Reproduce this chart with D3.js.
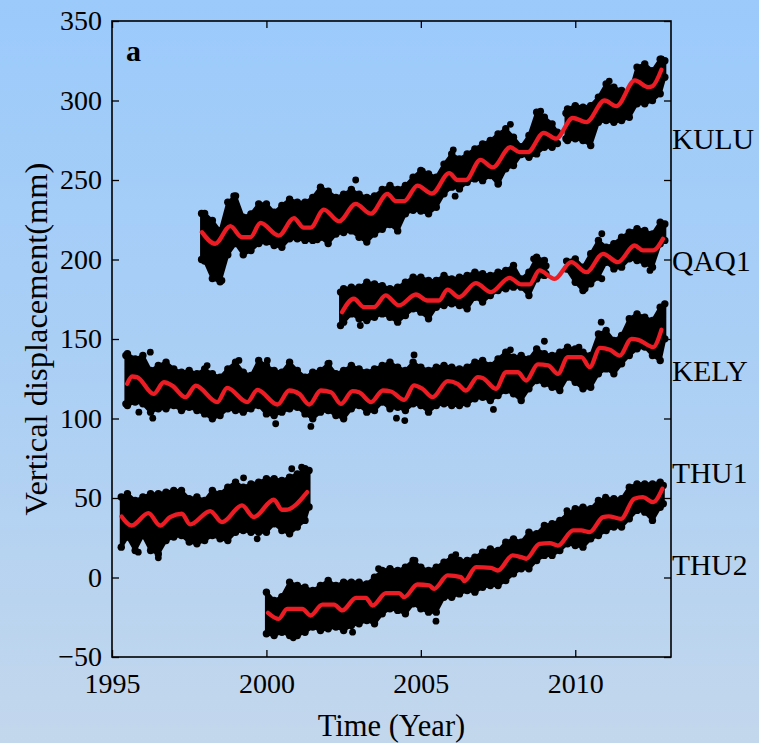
<!DOCTYPE html>
<html><head><meta charset="utf-8">
<script src="https://cdn.jsdelivr.net/npm/d3@7"></script>
<style>html,body{margin:0;padding:0;}svg{display:block;}</style>
</head><body>
<svg id="chart" width="759" height="743"></svg>
<script>
// ---------- data ----------
const stationNames = ["KULU", "QAQ1", "KELY", "THU1", "THU2"];
const labelBaselines = [149, 271, 381, 483, 575];
const xTicks = [1995, 2000, 2005, 2010];
const yTicks = [-50, 0, 50, 100, 150, 200, 250, 300, 350];

// envelope of the daily scatter: [year, upper, lower]; null = data gap
const kuluBand = [[1997.9,229,200],[1998.0,229,199],[1998.25,224.5,188],[1998.5,218,186],[1998.75,236,203],[1999.0,240,210],[1999.25,226.6,203],[1999.5,228.7,205.6],[1999.75,235,210],[2000.0,235,211],[2000.25,229.7,208.8],[2000.5,234,207.7],[2000.75,238,213],[2001.0,236,213],[2001.25,236,212],[2001.5,239,212],[2001.75,245.5,214],[2002.0,243,210],[2002.25,239,216],[2002.5,241,217],[2002.75,244,218],[2003.0,241,214],[2003.25,239,211],[2003.5,240,216],[2003.75,244,219],[2004.0,246.5,222],[2004.25,244,218],[2004.5,246.5,228.7],[2004.75,251.7,231],[2005.0,256,230.5],[2005.25,253.8,228.7],[2005.5,251.7,232.9],[2005.75,260,241.3],[2006.0,266.4,245.5],[2006.25,263.3,244.4],[2006.5,266.4,248.6],[2006.75,269.6,250.7],[2007.0,272.7,249.6],[2007.25,274.8,252.8],[2007.5,279,247.5],[2007.75,282.2,257],[2008.0,276.9,259.1],[2008.25,271,266],[2008.5,278,264.3],[2008.75,292.6,266.4],[2009.0,289.5,270.6],[2009.25,285.3,270.6],[2009.42,280,273],[2009.55,null,null],[2009.7,292,276],[2009.75,294.7,274.8],[2010.0,296.8,275.9],[2010.25,295.8,274.8],[2010.5,296.8,271.7],[2010.75,302,286.3],[2011.0,310.4,287.4],[2011.25,308.3,286.3],[2011.5,306.3,287.4],[2011.75,304,289.5],[2012.0,321,297.9],[2012.25,323,297.9],[2012.5,318.8,300],[2012.75,326,304.2],[2012.9,325,314.6]];
const qaq1Band = [[2002.4,179.5,158.5],[2002.5,181.6,160.6],[2002.75,182.6,165.8],[2003.0,182.6,162.7],[2003.25,185.7,161.6],[2003.5,184.7,163.7],[2003.75,183.6,165.8],[2004.0,181.6,163.7],[2004.25,182.6,160.6],[2004.5,185.7,164.8],[2004.75,188.9,169],[2005.0,188.9,166.9],[2005.25,186.8,162.7],[2005.5,186.8,170],[2005.75,190,171.1],[2006.0,187.8,172.1],[2006.25,188.9,171.1],[2006.5,190,169],[2006.75,192,176.3],[2007.0,191,173.2],[2007.25,190,177.4],[2007.5,192,180.5],[2007.75,193.1,181.6],[2008.0,196.2,182.6],[2008.25,187.8,182.6],[2008.5,192,177.4],[2008.75,201.5,187.8],[2009.0,199.4,190],[2009.05,196,191],[2009.3,null,null],[2009.72,199,194],[2010.0,200.4,185.7],[2010.25,195.2,180.5],[2010.5,203.6,184.7],[2010.75,212,188.9],[2011.0,207.8,198.3],[2011.25,209.9,194.1],[2011.5,214,195.2],[2011.75,217.2,200.4],[2012.0,219.3,199.4],[2012.25,218.2,197.3],[2012.5,216.1,195.2],[2012.75,223.5,209.9],[2012.9,222.4,212]];
const kelyBand = [[1995.45,139.6,109.2],[1995.5,140.7,108.2],[1995.75,137.5,110.3],[1996.0,139.6,109.2],[1996.25,130.2,104],[1996.5,133.3,106.1],[1996.75,135.4,106.1],[1997.0,131.2,108.2],[1997.25,129.1,105],[1997.5,130.2,107.1],[1997.75,128.1,105],[1998.0,131.2,102.9],[1998.25,128.1,99.8],[1998.5,126,101.9],[1998.75,131.2,106.1],[1999.0,135.4,105],[1999.25,129.1,104],[1999.5,127,106.1],[1999.75,136.5,108.2],[2000.0,133.3,102.9],[2000.25,130.2,101.9],[2000.5,129.1,104],[2000.75,135.4,106.1],[2001.0,130.2,107.1],[2001.25,126,102.9],[2001.5,129.1,99.8],[2001.75,130.2,104],[2002.0,134.4,105],[2002.25,128.1,101.9],[2002.5,130.2,99.8],[2002.75,133.3,106.1],[2003.0,131.2,108.2],[2003.25,129.1,104],[2003.5,131.2,105],[2003.75,133.3,110.3],[2004.0,135.4,106.1],[2004.25,132.3,107.1],[2004.5,130.2,105],[2004.75,135.4,109.2],[2005.0,132.3,108.2],[2005.25,130.2,104],[2005.5,132.3,108.2],[2005.75,133.3,109.2],[2006.0,132.3,108.2],[2006.25,131.2,108.2],[2006.5,132.3,109.2],[2006.75,135.4,112.4],[2007.0,136.5,113.4],[2007.25,133.3,111.3],[2007.5,137.5,114.5],[2007.75,141.7,117.6],[2008.0,138.6,115.5],[2008.25,139.6,111.3],[2008.5,137.5,118.7],[2008.75,143.8,123.9],[2009.0,140.7,121.8],[2009.25,139.6,119.7],[2009.5,141.7,117.6],[2009.75,144.9,126],[2010.0,143.8,122.8],[2010.25,141.7,118.7],[2010.5,139.6,119.7],[2010.75,153.2,128.1],[2011.0,155.3,131.2],[2011.25,149.1,128.1],[2011.5,152.2,134.4],[2011.75,162.7,139.6],[2012.0,165.8,143.8],[2012.25,163.7,144.9],[2012.5,161.6,139.6],[2012.75,170,136.5],[2012.9,172.1,150.1]];
const thu1Band = [[1995.3,50.6,19.1],[1995.5,52.7,25.4],[1995.75,48.5,17],[1996.0,50.6,26.4],[1996.25,52.7,17],[1996.5,52.7,14.8],[1996.75,53.7,23.3],[1997.0,54.7,25.4],[1997.25,54.7,26.4],[1997.5,49.5,22.3],[1997.75,50.6,21.2],[1998.0,48.5,23.3],[1998.25,54.7,26.4],[1998.5,52.7,24.4],[1998.75,56.8,23.3],[1999.0,60,28.5],[1999.25,56.8,29.6],[1999.5,58.9,28.5],[1999.75,60,28.5],[2000.0,62.1,28.5],[2000.25,62.1,33.8],[2000.5,61,29.6],[2000.75,63.1,27.5],[2001.0,65.2,31.7],[2001.25,68.4,35.9],[2001.38,67.3,44.3]];
const thu2Band = [[2000.0,-9.2,-35.4],[2000.25,-14.5,-36.5],[2000.5,-12,-34.4],[2000.75,-2.9,-36.5],[2001.0,-5,-36.5],[2001.25,-6.1,-34.4],[2001.5,-8.2,-31.2],[2001.75,-5,-33.3],[2002.0,-1.9,-32.3],[2002.25,-5,-31.2],[2002.5,-2.9,-33.3],[2002.75,-2.9,-30.2],[2003.0,-2.9,-29.1],[2003.25,-4,-27],[2003.5,0.2,-29.1],[2003.75,4.4,-22.8],[2004.0,5.5,-19.7],[2004.25,4.4,-20.7],[2004.5,6.5,-22.8],[2004.75,10.7,-16.5],[2005.0,6.5,-19.7],[2005.25,4.4,-21.8],[2005.5,6.5,-21.8],[2005.75,9.7,-12.4],[2006.0,12.8,-12.4],[2006.25,10.7,-10.3],[2006.5,10.7,-8.2],[2006.75,12.8,-9.2],[2007.0,15.9,-6.1],[2007.25,18,-5],[2007.5,17,-5],[2007.75,22.2,-1.9],[2008.0,24.3,2.3],[2008.25,22.2,5.5],[2008.5,28.5,5.5],[2008.75,27.5,10.7],[2009.0,32.7,13.9],[2009.25,33.8,13.9],[2009.5,35.9,17],[2009.75,40.1,21.2],[2010.0,43.2,20.1],[2010.25,44.2,19.1],[2010.5,43.2,24.3],[2010.75,48.4,26.4],[2011.0,49.5,29.6],[2011.25,49.5,31.7],[2011.5,49.5,31.7],[2011.75,56.8,36.9],[2012.0,58.9,42.2],[2012.25,58.9,41.1],[2012.5,58.9,35.9],[2012.75,60,44.2],[2012.85,57.9,46.4]];

// isolated points outside the dense band: [year, mm]
const kuluOutliers = [[2002.89,250],[1998.94,240],[1998.56,186.8],[2001.65,212.4],[2005.05,255.5],[2006.05,269],[2006.11,239.8],[2007.52,248.2],[2007.9,285],[2008.88,293.3],[2011.1,312.2],[2012.79,326.2]];
const qaq1Outliers = [[2010.86,216.2],[2003.04,158.5],[2008.65,200.4],[2010.32,181.6],[2010.86,187.9],[2012.42,193.1]];
const kelyOutliers = [[1996.24,141.7],[1995.87,104],[1996.32,100.2],[2001.44,95],[1999.11,136.5],[2000.03,136.5],[2002.03,134.8],[1998.08,133.3],[2000.3,96.7],[2004.78,140],[2009.0,148.6],[2004.21,100.2],[2004.48,98.7],[2007.35,105.7],[2010.12,144.8],[2007.9,143.2],[2010.84,160.6]];
const thu1Outliers = [[1999.26,62.7],[1995.85,15.9],[1996.5,12.4],[1999.7,24.3],[2001.14,69.4],[2000.82,68.4]];
const thu2Outliers = [[2006.13,14.3],[2004.81,10.7],[2003.63,5.5],[2005.49,-27.5],[2002.79,-34.4],[2000.87,-37.9],[2009.73,42.1],[2010.98,50.5]];

// red fitted seasonal model: [year, mm]
const kuluFit = [[1997.91,217.2],[1998.34,209.9],[1998.83,221],[1999.21,214],[1999.48,214],[1999.81,223],[2000.4,215],[2000.89,226],[2001.21,220],[2001.43,220],[2001.86,231.4],[2002.35,224],[2002.89,235],[2003.38,228.8],[2003.92,241.3],[2004.19,236.7],[2004.46,236.7],[2004.89,246.5],[2005.36,241.5],[2005.92,254.3],[2006.19,250],[2006.46,250],[2006.93,262.7],[2007.33,258],[2007.9,270.6],[2008.19,267.5],[2008.46,267.5],[2008.98,279.7],[2009.38,276],[2009.92,289],[2010.36,286.4],[2010.95,300],[2011.33,296.4],[2011.93,312.6],[2012.36,308.4],[2012.5,309],[2012.79,319.3]];
const qaq1Fit = [[2002.45,166.9],[2002.83,175.3],[2003.16,170],[2003.48,170],[2003.86,177.4],[2004.29,171.1],[2004.84,178],[2005.21,174.2],[2005.59,174.2],[2005.86,181.1],[2006.24,176.3],[2006.78,185.1],[2007.27,179.5],[2007.87,188.5],[2008.25,184.3],[2008.52,184.3],[2008.84,193.1],[2009.33,187.8],[2009.87,198.3],[2010.36,192],[2010.9,203.6],[2011.38,198.3],[2011.92,208.8],[2012.19,205.7],[2012.52,205.7],[2012.84,213]];
const kelyFit = [[1995.49,121.8],[1995.65,126.4],[1995.81,126],[1996.35,115.5],[1996.68,122.8],[1996.95,120.7],[1997.38,113.4],[1997.71,120.7],[1998.41,110.3],[1998.73,119.3],[1999.38,110.3],[1999.71,118],[2000.36,108.8],[2000.74,117.6],[2001.06,115.5],[2001.39,108.8],[2001.76,117.6],[2002.09,116.5],[2002.41,109.2],[2002.79,117.2],[2003.0,116.5],[2003.39,110.3],[2003.77,117.6],[2004.03,117],[2004.46,111.7],[2004.78,120.8],[2005.05,118.7],[2005.38,113.4],[2005.87,123.5],[2006.19,121.8],[2006.46,117.6],[2006.84,126],[2007.0,125.5],[2007.43,118.7],[2007.76,129.1],[2008.14,129.1],[2008.41,123.9],[2008.79,134],[2009.12,133.4],[2009.44,128.1],[2009.76,138.6],[2010.2,138.6],[2010.47,132.3],[2010.8,144.4],[2011.12,143.2],[2011.44,139.6],[2011.82,150.1],[2012.04,149.5],[2012.52,144.9],[2012.79,155.8]];
const thu1Fit = [[1995.31,38.4],[1995.64,32.7],[1996.18,40.5],[1996.56,32.7],[1996.88,38],[1997.26,40.1],[1997.53,33.4],[1998.18,41.8],[1998.56,34.8],[1999.21,45.3],[1999.59,38],[2000.24,48.9],[2000.51,42.6],[2000.62,42.6],[2001.32,53.7]];
const thu2Fit = [[2000.05,-22.2],[2000.4,-26],[2000.67,-19.7],[2001.16,-19.7],[2001.43,-23.9],[2001.81,-17],[2002.19,-17],[2002.46,-20.7],[2002.9,-12.8],[2003.22,-12.8],[2003.44,-17.6],[2003.87,-9.8],[2004.3,-9.8],[2004.46,-12.4],[2004.89,-4.4],[2005.27,-5],[2005.43,-7.1],[2005.87,1.3],[2006.3,0.2],[2006.41,-2.3],[2006.79,6.5],[2007.27,6.1],[2007.49,4.4],[2007.97,13.9],[2008.25,12.8],[2008.41,11.8],[2008.84,21.2],[2009.17,21.6],[2009.44,20.1],[2009.93,29.6],[2010.19,29.6],[2010.46,28.5],[2010.9,38],[2011.08,38.5],[2011.48,36.9],[2011.91,49.5],[2012.19,50.5],[2012.52,47.4],[2012.82,55.8]];

const bands = [kuluBand, qaq1Band, kelyBand, thu1Band, thu2Band];
const outliers = [kuluOutliers, qaq1Outliers, kelyOutliers, thu1Outliers, thu2Outliers];
const fits = [kuluFit, qaq1Fit, kelyFit, thu1Fit, thu2Fit];

// ---------- drawing ----------
const W = 759, H = 743;
const svg = d3.select("#chart");
const FONT = "'Liberation Serif','Times New Roman',serif";

const defs = svg.append("defs");
const grad = defs.append("linearGradient").attr("id", "bg").attr("x1", 0).attr("y1", 0).attr("x2", 0).attr("y2", 1);
grad.append("stop").attr("offset", "0%").attr("stop-color", "#9bcafb");
grad.append("stop").attr("offset", "55%").attr("stop-color", "#add0f4");
grad.append("stop").attr("offset", "100%").attr("stop-color", "#c3d7ec");
svg.append("rect").attr("width", W).attr("height", H).attr("fill", "url(#bg)");

const x = d3.scaleLinear().domain([1995, 2013.1]).range([112, 671]);
const y = d3.scaleLinear().domain([-50, 350]).range([657, 21]);

const plot = svg.append("g");
const defined = d => d[1] !== null;
const area = d3.area().defined(defined).x(d => x(d[0])).y0(d => y(d[2])).y1(d => y(d[1]));

bands.forEach((band, i) => {
  const g = plot.append("g");
  g.append("path").datum(band).attr("d", area)
    .attr("fill", "#000").attr("stroke", "#000").attr("stroke-width", 3).attr("stroke-linejoin", "round");
  const pts = band.filter(defined);
  g.selectAll("circle.hi").data(pts).join("circle").attr("class", "hi")
    .attr("cx", d => x(d[0])).attr("cy", d => y(d[1])).attr("r", 3.7).attr("fill", "#000");
  g.selectAll("circle.lo").data(pts).join("circle").attr("class", "lo")
    .attr("cx", d => x(d[0])).attr("cy", d => y(d[2])).attr("r", 3.7).attr("fill", "#000");
  g.selectAll("circle.out").data(outliers[i]).join("circle").attr("class", "out")
    .attr("cx", d => x(d[0])).attr("cy", d => y(d[1])).attr("r", 3.4).attr("fill", "#000");
});

const line = d3.line().curve(d3.curveMonotoneX).x(d => x(d[0])).y(d => y(d[1]));
fits.forEach(f => {
  plot.append("path").datum(f).attr("d", line)
    .attr("fill", "none").attr("stroke", "#ec1c24").attr("stroke-width", 4.3)
    .attr("stroke-linejoin", "round").attr("stroke-linecap", "round");
});

// axes
const styleAxis = g => {
  g.select(".domain").remove();
  g.selectAll(".tick line").attr("stroke", "#000").attr("stroke-width", 1.3);
  g.selectAll("text").attr("font-family", FONT).attr("font-size", 28).attr("fill", "#000");
};
svg.append("g").attr("transform", `translate(0,${y(-50)})`)
  .call(d3.axisBottom(x).tickValues(xTicks).tickFormat(d3.format("d")).tickSizeInner(-7).tickSizeOuter(0).tickPadding(16))
  .call(styleAxis);
svg.append("g").attr("transform", `translate(0,${y(350)})`)
  .call(d3.axisTop(x).tickValues(xTicks).tickFormat("").tickSizeInner(-7).tickSizeOuter(0))
  .call(styleAxis);
svg.append("g").attr("transform", `translate(${x(1995)},0)`)
  .call(d3.axisLeft(y).tickValues(yTicks).tickFormat(d3.format("d")).tickSizeInner(-7).tickSizeOuter(0).tickPadding(10))
  .call(styleAxis);
svg.append("g").attr("transform", `translate(${x(2013.1)},0)`)
  .call(d3.axisRight(y).tickValues(yTicks).tickFormat("").tickSizeInner(-7).tickSizeOuter(0))
  .call(styleAxis);

svg.append("rect").attr("x", x(1995)).attr("y", y(350))
  .attr("width", x(2013.1) - x(1995)).attr("height", y(-50) - y(350))
  .attr("fill", "none").attr("stroke", "#000").attr("stroke-width", 1.6);

// labels
svg.append("text").attr("x", 126).attr("y", 61).text("a")
  .attr("font-family", FONT).attr("font-size", 30).attr("font-weight", "bold");
svg.append("text").attr("x", (x(1995) + x(2013.1)) / 2).attr("y", 736).attr("text-anchor", "middle")
  .attr("font-family", FONT).attr("font-size", 30.5).text("Time (Year)");
svg.append("text").attr("transform", `translate(47,${(y(350) + y(-50)) / 2}) rotate(-90)`)
  .attr("text-anchor", "middle").attr("font-family", FONT).attr("font-size", 32.5)
  .text("Vertical displacement(mm)");
stationNames.forEach((n, i) => {
  svg.append("text").attr("x", 672).attr("y", labelBaselines[i])
    .attr("font-family", FONT).attr("font-size", 29.5).text(n);
});
</script>
</body></html>
